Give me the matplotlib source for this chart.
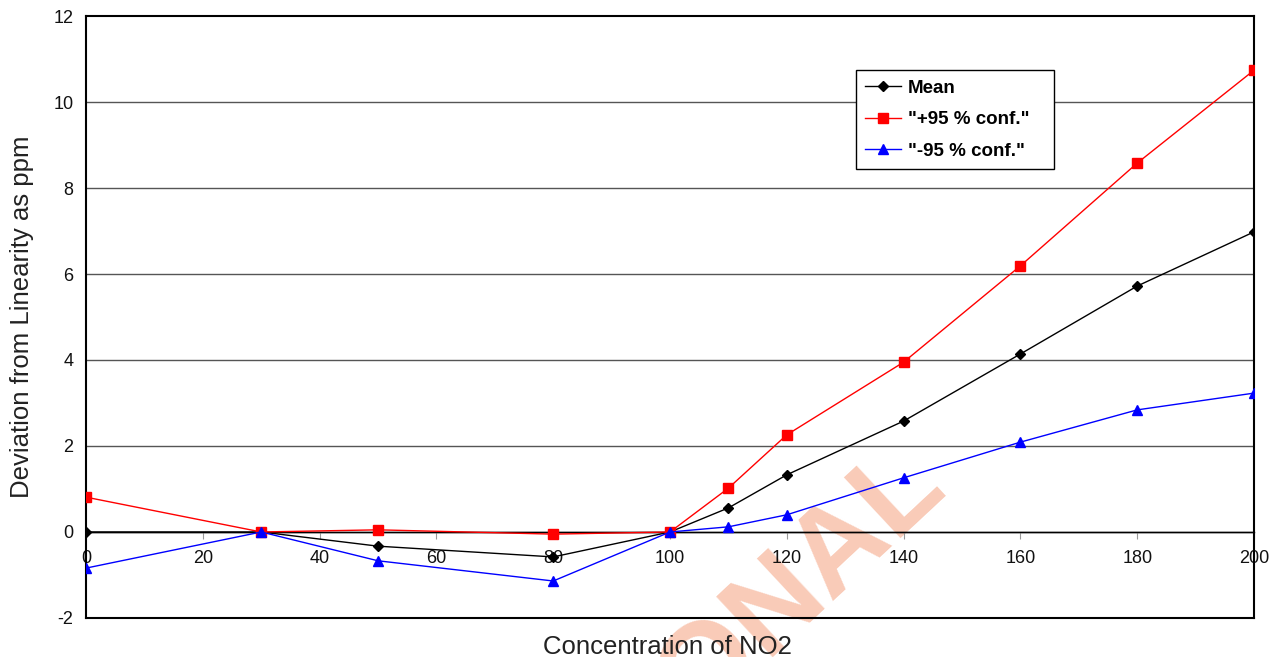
import matplotlib

matplotlib.use("Agg")
import matplotlib.pyplot as plt

plt.rcParams["font.family"] = ["Liberation Sans", "DejaVu Sans"]
plt.rcParams["axes.unicode_minus"] = False

conc = [0, 30, 50, 80, 100, 110, 120, 140, 160, 180, 200]
mean = [0.0, 0.0, -0.33, -0.58, 0.0, 0.56, 1.33, 2.58, 4.14, 5.72, 6.98]
upper = [0.81, 0.0, 0.05, -0.05, 0.0, 1.02, 2.26, 3.95, 6.19, 8.58, 10.74]
lower = [-0.84, 0.0, -0.67, -1.14, 0.0, 0.12, 0.40, 1.26, 2.09, 2.84, 3.23]

x_ticks = list(range(0, 201, 20))
y_ticks = list(range(-2, 13, 2))

fig = plt.figure(figsize=(12.69, 6.57), dpi=100)
ax = fig.add_axes([0.0678, 0.0594, 0.9204, 0.9162])

ax.set_xlim(0, 200)
ax.set_ylim(-2, 12)

# horizontal gridlines, zero line in black
for y in y_ticks[1:-1]:
    ax.axhline(y, color="black" if y == 0 else "#555555", lw=1.0, zorder=1)

ax.plot(conc, mean, color="black", marker="D", ms=5.5, lw=1.0, label="Mean", zorder=3)
ax.plot(conc, upper, color="#ff0000", marker="s", ms=7.5, lw=1.0,
        label='"+95 % conf."', zorder=3)
ax.plot(conc, lower, color="#0000ff", marker="^", ms=7.5, lw=1.0,
        label='"-95 % conf."', zorder=3)

# x axis sits on the zero line, frame box around the plot
ax.spines["bottom"].set_position(("data", 0))
ax.axhline(-2, color="black", lw=1.5, clip_on=False, zorder=4)
for side in ("left", "right", "top"):
    ax.spines[side].set_linewidth(1.5)
ax.spines["bottom"].set_linewidth(1.0)

ax.set_xticks(x_ticks)
ax.set_yticks(y_ticks)
ax.tick_params(axis="x", direction="out", length=5, width=0.8,
               labelsize=13, pad=8, colors="#999999", labelcolor="#111111")
ax.tick_params(axis="y", length=0, labelsize=13, pad=9, labelcolor="#111111")

ax.set_ylabel("Deviation from Linearity as ppm", fontsize=18.5, labelpad=14, color="#222222")
fig.text(0.5258, 0.004, "Concentration of NO2", fontsize=18.5, ha="center",
         va="baseline", color="#222222")

leg = ax.legend(loc="upper left", bbox_to_anchor=(0.6592, 0.5, 0.1695, 0.4103),
                mode="expand", fancybox=False, edgecolor="black", framealpha=1,
                prop={"weight": "bold", "size": 13.5},
                handlelength=1.9, borderpad=0.5, labelspacing=0.78,
                handletextpad=0.35, borderaxespad=0)
leg.get_frame().set_linewidth(1.0)

# watermark, partly off the canvas
ax.text(0.747, 1 - 490 / 657, "ONAL", transform=fig.transFigure, rotation=43,
        rotation_mode="anchor", ha="right", va="baseline", fontsize=87,
        fontweight="bold", color="#f9cbb8", zorder=0.5, clip_on=False)

fig.savefig("out.png", dpi=100)
plt.close(fig)
